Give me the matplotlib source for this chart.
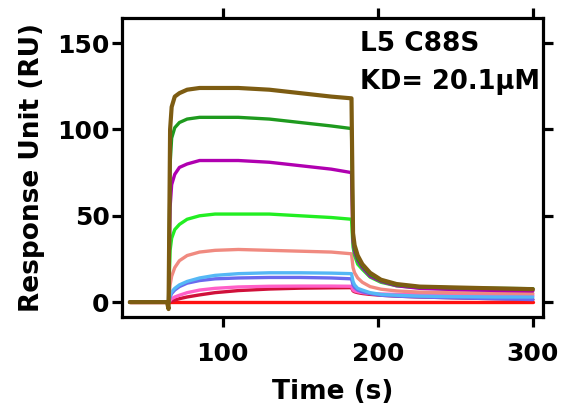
import numpy as np
import matplotlib
matplotlib.use("Agg")
import matplotlib.pyplot as plt

plt.rcParams['font.family'] = ['DejaVu Sans']
plt.rcParams['font.weight'] = 'bold'

# time points (s)
t = [40, 64, 65, 66, 67, 69, 72, 77, 85, 95, 110, 130, 150, 170, 183,
     184, 185, 187, 190, 195, 202, 212, 227, 250, 275, 300]

# responses (RU), lowest concentration first
red_flat = [0, 0, 0, 0, 0, 0, 0, 0, 0, 0, 0, 0, 0, 0, 0,
            0, 0, 0, 0, 0, 0, 0, 0, 0, 0, 0]
crimson = [0, 0, 0, 0.3, 0.7, 1.2, 2, 3, 4.2, 5.5, 6.7, 7.6, 8.1, 8.3, 8.4,
           6.5, 6, 5.5, 5, 4.5, 4, 3.5, 3, 2.5, 2, 1.5]
pink = [0, 0, 0, 1, 2, 3, 4, 5.5, 7, 8, 8.8, 9.2, 9.3, 9.3, 9.2,
        7, 6.5, 6, 5.5, 5, 4.7, 4.5, 4.3, 4.2, 4.1, 4]
blue = [0, 0, 0, 3, 5, 7, 9, 11, 12.5, 13.5, 14, 14.3, 14.3, 14, 13.5,
        10, 8.5, 7, 6, 5, 4, 3.5, 3, 2.5, 2, 1.5]
light_blue = [0, 0, 0, 4, 6, 8, 10, 12, 14, 15.5, 16.5, 17, 17, 16.8, 16.5,
              12, 10, 8, 7, 5.5, 4.5, 4, 3.5, 3.2, 3, 3]
salmon = [0, 0, 0, 10, 15, 20, 24, 27, 29, 30, 30.5, 30, 29.5, 29, 28,
          20, 17, 14, 11.5, 9, 7.5, 6.5, 5.8, 5.4, 5.2, 5]
lime = [0, 0, 0, 30, 37, 42, 45, 48, 50, 51, 51, 51, 50, 49, 48,
        32, 27, 22, 19, 14.5, 11.5, 9.5, 8.3, 7.5, 7.2, 7]
magenta = [0, 0, 0, 55, 68, 74, 78, 80, 82, 82, 82, 81, 79, 77, 75,
           35, 29, 24, 20, 15, 12, 9.5, 8, 7.3, 6.8, 6.5]
green = [0, 0, 0, 80, 95, 101, 104, 106, 107, 107, 107, 106, 104, 102, 100.5,
         38, 31, 25, 21, 16, 12.5, 10, 8.8, 8.3, 8, 7.8]
brown = [0, 0, -4, 100, 113, 119, 121, 123, 124, 124, 124, 123, 121, 119, 118,
         40, 33, 27, 22, 17, 13, 10.5, 9, 8.5, 8, 7.5]

series = [red_flat, crimson, pink, blue, light_blue, salmon, lime, magenta, green]
colors = ['#ff1010', '#d0103a', '#ff5fc8', '#6a6aee', '#55b8f5', '#f08a80',
          '#22ee22', '#b000b0', '#1e9a1e']

fig = plt.figure(figsize=(5.65, 4.19), dpi=100)
fig.patch.set_facecolor('white')
ax1 = fig.add_axes([0.216, 0.243, 0.745, 0.714])

for y, c in zip(series, colors):
    ax1.plot(t, y, color=c, lw=2.4, solid_capstyle='round')
ax1.plot(t, brown, color='#7d5c12', lw=3.0, solid_capstyle='round')

ax1.set_xlim(35, 306.5)
ax1.set_ylim(-8.7, 164.5)
ax1.set_xticks([100, 200, 300])
ax1.set_yticks([0, 50, 100, 150])

for s in ax1.spines.values():
    s.set_linewidth(2.3)
ax1.tick_params(direction='out', length=7, width=2.3, labelsize=18,
                top=True, right=True, pad=2)
ax1.tick_params(axis='x', pad=11)

ax1.set_xlabel('Time (s)', fontsize=19, fontweight='bold', labelpad=9)
ax1.set_ylabel('Response Unit (RU)', fontsize=19, fontweight='bold', labelpad=9)

ax1.text(0.565, 0.955, 'L5 C88S', transform=ax1.transAxes, fontsize=19,
         fontweight='bold', va='top', ha='left')
ax1.text(0.565, 0.83, 'KD= 20.1\u03bcM', transform=ax1.transAxes, fontsize=18.5,
         fontweight='bold', va='top', ha='left')

plt.savefig('out.png', dpi=100)
